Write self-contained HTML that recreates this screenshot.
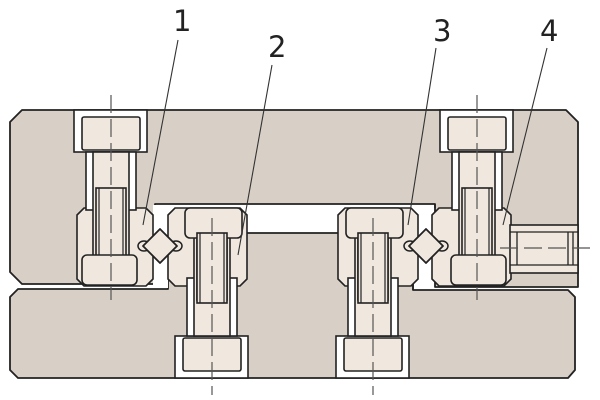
<!DOCTYPE html>
<html><head><meta charset="utf-8"><style>
html,body{margin:0;padding:0;background:#fff;width:600px;height:400px;overflow:hidden}
svg{display:block}
text{font-family:"DejaVu Sans","Liberation Sans",sans-serif;font-size:29px;fill:#222}
</style></head><body>
<svg width="600" height="400" viewBox="0 0 600 400" xmlns="http://www.w3.org/2000/svg">
<defs>
<g id="boltTop">
  <rect x="-37" y="110" width="73" height="42" fill="#fff" stroke="#222" stroke-width="1.6"/>
  <rect x="-29" y="117" width="58" height="33" rx="2" fill="#f0e8df" stroke="#222" stroke-width="1.6"/>
  <rect x="-25" y="152" width="50" height="58" fill="#fff" stroke="#222" stroke-width="1.6"/>
  <rect x="-18" y="152" width="36" height="108" fill="#f0e8df" stroke="#222" stroke-width="1.6"/>
  <rect x="-15" y="188" width="30" height="70" fill="#f0e8df" stroke="#222" stroke-width="1.6"/>
  <line x1="-12" y1="188" x2="-12" y2="258" stroke="#222" stroke-width="1.2"/>
  <line x1="12" y1="188" x2="12" y2="258" stroke="#222" stroke-width="1.2"/>
</g>
<g id="diamond">
  <ellipse cx="-16" cy="0" rx="6" ry="5" fill="#f0e8df" stroke="#222" stroke-width="1.5"/>
  <ellipse cx="16" cy="0" rx="6" ry="5" fill="#f0e8df" stroke="#222" stroke-width="1.5"/>
  <polygon points="0,-17 17,0 0,17 -17,0" fill="#f0e8df" stroke="#222" stroke-width="1.8" stroke-linejoin="round"/>
</g>
</defs>

<!-- upper ring -->
<polygon points="22,110 566,110 578,122 578,287 435,287 435,204 155,204 155,284 22,284 10,272 10,122"
 fill="#d8d0c7" stroke="#222" stroke-width="1.8" stroke-linejoin="round"/>
<!-- lower ring -->
<polygon points="18,289 168,289 168,233 413,233 413,290 568,290 575,297 575,370 568,378 18,378 10,370 10,297"
 fill="#d8d0c7" stroke="#222" stroke-width="1.8" stroke-linejoin="round"/>
<!-- white clearances around diamonds -->
<rect x="153" y="205" width="15" height="83" fill="#fff"/>
<rect x="418" y="205" width="14" height="84" fill="#fff"/>
<line x1="413" y1="233" x2="413" y2="290" stroke="#222" stroke-width="1.6"/>
<line x1="435" y1="204" x2="435" y2="208" stroke="#222" stroke-width="1.6"/>

<!-- part 1 -->
<polygon points="84,208 146,208 153,215 153,279 146,286 84,286 77,279 77,215" fill="#f0e8df" stroke="#222" stroke-width="1.6"/>
<!-- part 2 -->
<polygon points="175,208 240,208 247,215 247,279 240,286 175,286 168,279 168,215" fill="#f0e8df" stroke="#222" stroke-width="1.6"/>
<!-- part 3 -->
<polygon points="345,208 411,208 418,215 418,279 411,286 345,286 338,279 338,215" fill="#f0e8df" stroke="#222" stroke-width="1.6"/>
<!-- part 4 -->
<polygon points="439,208 504,208 511,215 511,279 504,286 439,286 432,279 432,215" fill="#f0e8df" stroke="#222" stroke-width="1.6"/>

<use href="#boltTop" transform="translate(111,0)"/>
<use href="#boltTop" transform="translate(477,0)"/>
<rect x="82" y="255" width="55" height="30" rx="5" fill="#f0e8df" stroke="#222" stroke-width="1.6"/>
<rect x="451" y="255" width="55" height="30" rx="5" fill="#f0e8df" stroke="#222" stroke-width="1.6"/>

<use href="#boltTop" transform="translate(212,488) scale(1,-1)"/>
<use href="#boltTop" transform="translate(373,488) scale(1,-1)"/>
<rect x="185" y="208" width="57" height="30" rx="5" fill="#f0e8df" stroke="#222" stroke-width="1.6"/>
<rect x="346" y="208" width="57" height="30" rx="5" fill="#f0e8df" stroke="#222" stroke-width="1.6"/>
<rect x="197" y="233" width="30" height="70" fill="#f0e8df" stroke="#222" stroke-width="1.6"/>
<rect x="358" y="233" width="30" height="70" fill="#f0e8df" stroke="#222" stroke-width="1.6"/>
<line x1="200" y1="233" x2="200" y2="303" stroke="#222" stroke-width="1.2"/>
<line x1="224" y1="233" x2="224" y2="303" stroke="#222" stroke-width="1.2"/>
<line x1="361" y1="233" x2="361" y2="303" stroke="#222" stroke-width="1.2"/>
<line x1="385" y1="233" x2="385" y2="303" stroke="#222" stroke-width="1.2"/>

<use href="#diamond" transform="translate(160,246)"/>
<use href="#diamond" transform="translate(426,246)"/>

<!-- right rod -->
<rect x="510" y="225" width="68" height="48" fill="#f0e8df" stroke="#222" stroke-width="1.6"/>
<line x1="510" y1="232" x2="578" y2="232" stroke="#222" stroke-width="1.3"/>
<line x1="510" y1="265" x2="578" y2="265" stroke="#222" stroke-width="1.3"/>
<line x1="517" y1="232" x2="517" y2="265" stroke="#222" stroke-width="1.3"/>
<line x1="568" y1="232" x2="568" y2="265" stroke="#222" stroke-width="1.3"/>
<line x1="573" y1="232" x2="573" y2="265" stroke="#222" stroke-width="1.3"/>

<g stroke="#555" stroke-width="1.2" stroke-dasharray="18,6">
<line x1="111" y1="95" x2="111" y2="300"/>
<line x1="477" y1="95" x2="477" y2="300"/>
<line x1="212" y1="218" x2="212" y2="395"/>
<line x1="373" y1="218" x2="373" y2="395"/>
<line x1="500" y1="248" x2="592" y2="248"/>
</g>

<g stroke="#333" stroke-width="1.1">
<line x1="178" y1="40" x2="143" y2="225"/>
<line x1="272" y1="65" x2="238" y2="255"/>
<line x1="436" y1="48" x2="408" y2="225"/>
<line x1="547" y1="48" x2="503" y2="225"/>
</g>
<text x="173" y="31">1</text>
<text x="268" y="57">2</text>
<text x="433" y="41">3</text>
<text x="540" y="41">4</text>
</svg>
</body></html>
